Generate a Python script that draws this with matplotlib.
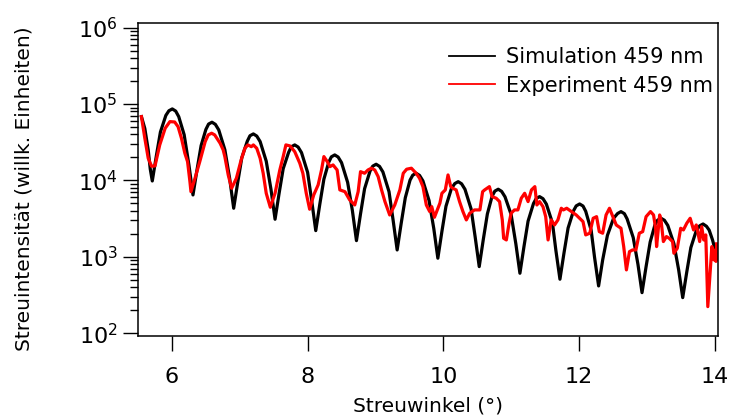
import matplotlib
matplotlib.use("Agg")
import matplotlib.pyplot as plt
import numpy as np
from matplotlib.ticker import LogLocator, LogFormatterMathtext, NullFormatter, FixedLocator

# values; intensities given as log10(intensity)
sim_angle = [5.55, 5.60, 5.65, 5.68, 5.71, 5.77, 5.83, 5.91, 5.955, 6.005,
             6.055, 6.10, 6.18, 6.25, 6.31, 6.37, 6.43, 6.50, 6.54, 6.59,
             6.64, 6.69, 6.78, 6.85, 6.91, 6.97, 7.03, 7.11, 7.15, 7.20,
             7.25, 7.30, 7.39, 7.46, 7.52, 7.58, 7.64, 7.72, 7.76, 7.81,
             7.86, 7.91, 8.00, 8.06, 8.12, 8.18, 8.24, 8.31, 8.35, 8.40,
             8.45, 8.50, 8.59, 8.66, 8.72, 8.78, 8.84, 8.92, 8.96, 9.01,
             9.06, 9.11, 9.20, 9.26, 9.32, 9.38, 9.44, 9.51, 9.55, 9.60,
             9.65, 9.70, 9.79, 9.86, 9.92, 9.98, 10.04, 10.12, 10.17, 10.22,
             10.27, 10.32, 10.41, 10.47, 10.53, 10.59, 10.65, 10.72, 10.76, 10.81,
             10.86, 10.91, 11.00, 11.07, 11.13, 11.19, 11.25, 11.33, 11.37, 11.42,
             11.47, 11.52, 11.61, 11.66, 11.72, 11.78, 11.84, 11.92, 11.96, 12.01,
             12.06, 12.10, 12.18, 12.23, 12.29, 12.35, 12.42, 12.51, 12.57, 12.62,
             12.67, 12.71, 12.80, 12.87, 12.93, 12.99, 13.05, 13.12, 13.16, 13.21,
             13.26, 13.31, 13.40, 13.47, 13.53, 13.59, 13.65, 13.73, 13.78, 13.83,
             13.88, 13.92, 13.97, 14.02]
sim_log = [4.835, 4.68, 4.40, 4.15, 3.993, 4.323, 4.634, 4.851, 4.912, 4.936,
           4.908, 4.835, 4.598, 4.204, 3.81, 4.143, 4.457, 4.667, 4.738, 4.762,
           4.734, 4.661, 4.402, 4.030, 3.636, 3.977, 4.298, 4.512, 4.585, 4.609,
           4.581, 4.509, 4.252, 3.883, 3.492, 3.833, 4.154, 4.368, 4.441, 4.465,
           4.437, 4.364, 4.106, 3.736, 3.343, 3.690, 4.017, 4.235, 4.309, 4.334,
           4.306, 4.233, 3.975, 3.605, 3.212, 3.562, 3.892, 4.122, 4.187, 4.212,
           4.184, 4.111, 3.853, 3.483, 3.090, 3.441, 3.773, 4.004, 4.069, 4.094,
           4.066, 3.994, 3.738, 3.371, 2.982, 3.333, 3.663, 3.894, 3.959, 3.984,
           3.956, 3.884, 3.628, 3.261, 2.872, 3.227, 3.561, 3.794, 3.860, 3.885,
           3.857, 3.786, 3.555, 3.170, 2.785, 3.136, 3.467, 3.698, 3.763, 3.788,
           3.761, 3.690, 3.442, 3.085, 2.707, 3.052, 3.377, 3.603, 3.667, 3.692,
           3.665, 3.596, 3.349, 2.995, 2.619, 2.960, 3.281, 3.504, 3.567, 3.592,
           3.565, 3.497, 3.253, 2.902, 2.531, 2.872, 3.193, 3.417, 3.480, 3.505,
           3.479, 3.411, 3.173, 2.830, 2.466, 2.803, 3.121, 3.343, 3.406, 3.430,
           3.400, 3.350, 3.220, 3.050]

exp_angle = [5.55, 5.60, 5.65, 5.70, 5.75, 5.82, 5.90, 5.97, 6.04, 6.09,
             6.14, 6.19, 6.23, 6.265, 6.28, 6.34, 6.41, 6.49, 6.535, 6.585,
             6.63, 6.71, 6.755, 6.78, 6.83, 6.88, 6.95, 7.02, 7.075, 7.12,
             7.17, 7.20, 7.25, 7.30, 7.345, 7.39, 7.45, 7.52, 7.59, 7.64,
             7.68, 7.74, 7.81, 7.885, 7.93, 7.98, 8.03, 8.09, 8.155, 8.205,
             8.24, 8.29, 8.33, 8.375, 8.435, 8.475, 8.55, 8.62, 8.695, 8.745,
             8.78, 8.84, 8.89, 8.94, 8.99, 9.04, 9.09, 9.14, 9.21, 9.285,
             9.36, 9.41, 9.46, 9.53, 9.60, 9.65, 9.70, 9.75, 9.80, 9.83,
             9.87, 9.95, 9.98, 10.03, 10.07, 10.11, 10.14, 10.19, 10.24, 10.29,
             10.34, 10.39, 10.46, 10.54, 10.58, 10.61, 10.68, 10.72, 10.78, 10.83,
             10.87, 10.89, 10.93, 10.97, 11.00, 11.05, 11.10, 11.15, 11.20, 11.25,
             11.30, 11.35, 11.38, 11.42, 11.47, 11.51, 11.545, 11.59, 11.64, 11.69,
             11.74, 11.77, 11.82, 11.89, 11.96, 12.01, 12.06, 12.10, 12.16, 12.21,
             12.26, 12.30, 12.35, 12.40, 12.45, 12.50, 12.55, 12.62, 12.66, 12.70,
             12.745, 12.79, 12.84, 12.89, 12.94, 12.99, 13.055, 13.10, 13.13, 13.145,
             13.19, 13.21, 13.245, 13.29, 13.33, 13.38, 13.40, 13.45, 13.50, 13.54,
             13.59, 13.64, 13.69, 13.73, 13.78, 13.81, 13.84, 13.87, 13.90, 13.94,
             13.96, 13.99, 14.01, 14.02, 14.03]
exp_log = [4.835, 4.552, 4.29, 4.185, 4.19, 4.465, 4.683, 4.77, 4.765, 4.704,
           4.552, 4.356, 4.246, 3.984, 3.853, 4.029, 4.246, 4.508, 4.596, 4.618,
           4.596, 4.487, 4.40, 4.31, 4.07, 3.898, 4.029, 4.268, 4.421, 4.465,
           4.442, 4.465, 4.421, 4.29, 4.094, 3.832, 3.649, 3.832, 4.137, 4.312,
           4.465, 4.452, 4.377, 4.225, 4.094, 3.832, 3.623, 3.81, 3.941, 4.137,
           4.312, 4.246, 4.181, 4.203, 4.137, 3.876, 3.853, 3.745, 3.679, 3.853,
           4.115, 4.094, 4.137, 4.16, 4.137, 4.05, 3.876, 3.723, 3.548, 3.679,
           3.876, 4.094, 4.147, 4.16, 4.094, 4.029, 3.919, 3.679, 3.592, 3.657,
           3.518, 3.702, 3.832, 3.876, 4.072, 3.919, 3.898, 3.876, 3.723, 3.592,
           3.483, 3.571, 3.614, 3.614, 3.853, 3.876, 3.919, 3.788, 3.767, 3.723,
           3.483, 3.243, 3.221, 3.44, 3.571, 3.614, 3.614, 3.767, 3.832, 3.723,
           3.876, 3.919, 3.679, 3.723, 3.657, 3.526, 3.221, 3.483, 3.417, 3.483,
           3.636, 3.614, 3.636, 3.592, 3.548, 3.505, 3.461, 3.287, 3.309, 3.505,
           3.526, 3.33, 3.309, 3.548, 3.636, 3.526, 3.417, 3.374, 3.134, 2.829,
           3.068, 3.09, 3.09, 3.309, 3.33, 3.526, 3.592, 3.548, 3.374, 3.134,
           3.548, 3.483, 3.2, 3.265, 3.243, 3.2, 3.047, 3.112, 3.374, 3.352,
           3.44, 3.505, 3.352, 3.417, 3.2, 3.395, 3.221, 3.287, 2.348, 2.872,
           3.134, 2.96, 3.09, 2.94, 3.17]

labels = ["Simulation 459 nm", "Experiment 459 nm"]
colors = ["black", "#ff0000"]

plt.rcParams["font.family"] = ["DejaVu Sans"]
fig = plt.figure(figsize=(7.31, 4.19), dpi=100)
ax = fig.add_axes([0.1893, 0.1981, 0.7929, 0.7463])

ax.plot(sim_angle, 10 ** np.array(sim_log), color=colors[0], lw=2.3, label=labels[0])
ax.plot(exp_angle, 10 ** np.array(exp_log), color=colors[1], lw=2.3, label=labels[1])

ax.set_yscale("log")
ax.set_xlim(5.505, 14.05)
ax.set_ylim(92, 1.14e6)

ax.xaxis.set_major_locator(FixedLocator([6, 8, 10, 12, 14]))
ax.yaxis.set_major_locator(LogLocator(base=10, numticks=10))
ax.yaxis.set_major_formatter(LogFormatterMathtext())
ax.yaxis.set_minor_locator(LogLocator(base=10, subs=np.arange(2, 10), numticks=20))
ax.yaxis.set_minor_formatter(NullFormatter())

ax.tick_params(axis="both", which="major", direction="out", length=11, width=1.0,
               labelsize=16, color="black")
ax.tick_params(axis="y", which="major", pad=4)
ax.tick_params(axis="x", which="major", pad=11)
ax.tick_params(axis="y", which="minor", direction="out", length=6, width=1.0)
ax.tick_params(top=False, right=False)
for sp in ax.spines.values():
    sp.set_linewidth(1.1)

ax.set_xlabel("Streuwinkel (°)", fontsize=14.5)
ax.set_ylabel("Streuintensität (willk. Einheiten)", fontsize=14.5)
ax.xaxis.set_label_coords(0.5, -0.192)
ax.yaxis.set_label_coords(-0.181, 0.47)

leg = ax.legend(loc="upper left", bbox_to_anchor=(449 / 731, 1 - 47 / 419),
                bbox_transform=fig.transFigure, frameon=False, fontsize=15,
                handlelength=2.2, handletextpad=0.55, borderpad=0,
                borderaxespad=0, labelspacing=0.42)
for line in leg.get_lines():
    line.set_linewidth(1.3)

fig.savefig("out.png", dpi=100)
